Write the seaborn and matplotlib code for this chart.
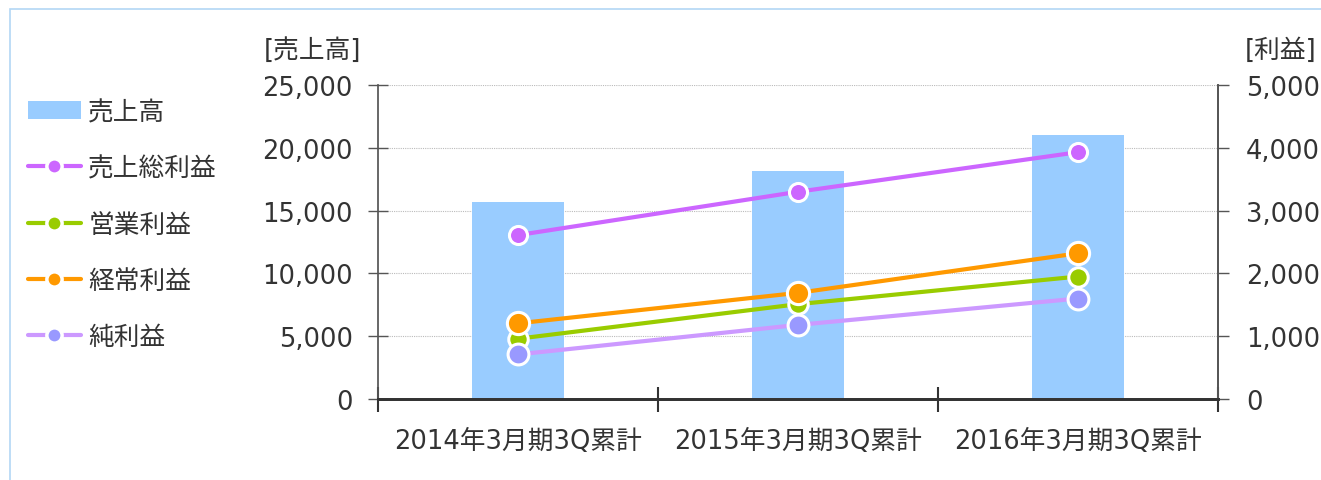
import numpy as np
import pandas as pd
import matplotlib
matplotlib.use("Agg")
import matplotlib.pyplot as plt
import seaborn as sns
from matplotlib.lines import Line2D
from matplotlib.patches import Patch, Rectangle
from matplotlib.ticker import StrMethodFormatter, FixedLocator

# data
periods = ["2014年3月期3Q累計", "2015年3月期3Q累計", "2016年3月期3Q累計"]
sales = [15700, 18150, 21050]          # 売上高 (left axis)
gross_profit = [2610, 3300, 3930]      # 売上総利益 (right axis)
operating_profit = [960, 1510, 1950]   # 営業利益
ordinary_profit = [1205, 1690, 2320]   # 経常利益
net_profit = [710, 1180, 1600]         # 純利益

series_names = ["売上総利益", "営業利益", "経常利益", "純利益"]
series_values = [gross_profit, operating_profit, ordinary_profit, net_profit]
line_colors = ["#cc66ff", "#99cc00", "#ff9900", "#cc99ff"]
marker_colors = ["#cc66ff", "#99cc00", "#ff9900", "#9999ff"]
marker_sizes = [13, 14, 16, 15]
bar_color = "#99ccff"
text_color = "#333333"
fs = 18.5

sns.set_theme(style="white")
# DejaVu for latin/digits (Verdana-like), Noto CJK for the kanji
plt.rcParams["font.family"] = ["DejaVu Sans", "Noto Sans CJK JP"]
plt.rcParams["text.color"] = text_color
plt.rcParams["xtick.color"] = text_color
plt.rcParams["ytick.color"] = text_color

fig = plt.figure(figsize=(13.21, 4.81), dpi=100)
fig.patches.append(Rectangle((10 / 1321, -0.1), 1.2, 1 - 10 / 481 + 0.1,
                             transform=fig.transFigure, fill=False,
                             edgecolor="#b3d7f5", linewidth=1.2))

ax = fig.add_axes([378 / 1321, 81 / 481, 840 / 1321, 314 / 481])

df_sales = pd.DataFrame({"period": periods, "sales": sales})
sns.barplot(data=df_sales, x="period", y="sales", ax=ax, color=bar_color,
            width=0.33, saturation=1, edgecolor="none")

ax.set_ylim(0, 25000)
ax.set_xlim(-0.5, 2.5)
ax.set_yticks(np.arange(0, 25001, 5000))
ax.yaxis.set_major_formatter(StrMethodFormatter("{x:,.0f}"))
ax.set_axisbelow(True)
ax.yaxis.grid(True, linestyle=(0, (1, 1)), color="#bbbbbb", linewidth=0.8)
ax.set_xlabel("")
ax.set_ylabel("")

ax2 = ax.twinx()
for name, vals, lc, mc, ms in zip(series_names, series_values, line_colors,
                                  marker_colors, marker_sizes):
    sns.pointplot(x=periods, y=vals, ax=ax2, color=lc, markers="o",
                  linewidth=3, errorbar=None, markersize=ms,
                  markerfacecolor=mc, markeredgecolor="white",
                  markeredgewidth=2.2)
ax2.set_ylim(0, 5000)
ax2.set_xlim(-0.5, 2.5)
ax2.set_yticks(np.arange(0, 5001, 1000))
ax2.yaxis.set_major_formatter(StrMethodFormatter("{x:,.0f}"))
ax2.set_ylabel("")

for a in (ax, ax2):
    a.spines["top"].set_visible(False)
    a.spines["left"].set_color("#555555")
    a.spines["right"].set_color("#555555")
    a.spines["bottom"].set_color("#333333")
    a.spines["bottom"].set_linewidth(2)
ax2.spines["left"].set_visible(False)

ax.tick_params(axis="y", direction="inout", length=14, width=1,
               color="#555555", labelsize=fs, pad=11, left=True)
ax2.tick_params(axis="y", direction="out", length=8, width=1,
                color="#555555", labelsize=fs, pad=12, right=True)

ax.set_xticks(range(len(periods)))
ax.set_xticklabels(periods)
ax.xaxis.set_minor_locator(FixedLocator([-0.5, 0.5, 1.5, 2.5]))
ax.tick_params(axis="x", which="major", length=0, labelsize=fs, pad=21)
ax.tick_params(axis="x", which="minor", direction="inout", length=18,
               width=1.5, color="#333333", bottom=True)
ax2.tick_params(axis="x", which="both", length=0, labelbottom=False)

fig.text(312 / 1321, 1 - 51 / 481, "[売上高]", ha="center", va="center",
         fontsize=fs, color=text_color)
fig.text(1281 / 1321, 1 - 51 / 481, "[利益]", ha="center", va="center",
         fontsize=fs, color=text_color)

handles = [Patch(facecolor=bar_color, edgecolor="none")]
for lc, mc in zip(line_colors, marker_colors):
    handles.append(Line2D([], [], color=lc, linewidth=3, marker="o",
                          markersize=11, markerfacecolor=mc,
                          markeredgecolor="white", markeredgewidth=2.5))
fig.legend(handles, ["売上高"] + series_names, loc="upper left",
           bbox_to_anchor=(28 / 1321, 1 - 100 / 481), frameon=False,
           fontsize=fs, handlelength=2.05, handleheight=0.7,
           labelspacing=1.18, handletextpad=0.3, borderaxespad=0,
           borderpad=0)

fig.savefig("out.png", dpi=100)
